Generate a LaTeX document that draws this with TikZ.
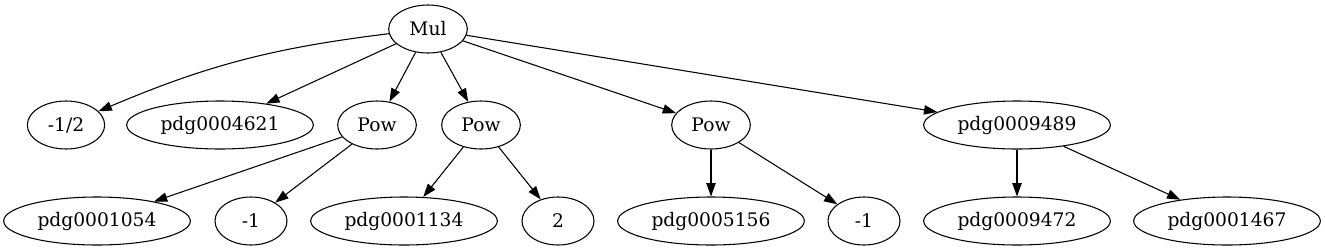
\documentclass[tikz,border=0pt]{standalone}
\usepackage{fontspec}
\setmainfont{DejaVu Serif}
\usetikzlibrary{arrows.meta}
\usetikzlibrary{shapes.geometric}

\begin{document}
\begin{tikzpicture}[x=0.75pt,y=-0.75pt,
	tnode/.style={ellipse, draw, line width=0.8pt, inner sep=0pt, minimum height=36pt,
		font=\fontsize{14pt}{16pt}\selectfont},
	small/.style={tnode, minimum width=54pt},
	op/.style={tnode, minimum width=59pt},
	pdg/.style={tnode, minimum width=140pt},
	link/.style={-{Triangle[length=10pt,width=7pt]}, line width=0.8pt}]

	\useasboundingbox (0,0) rectangle (1325,251);

	% racine
	\node[op] (mul) at (428,29) {Mul};

	% rang 1
	\node[op, minimum width=58pt] (half) at (66,125) {-1/2};
	\node[pdg] (p4621) at (220,125) {pdg0004621};
	\node[op] (powA) at (377,125) {Pow};
	\node[op] (powB) at (481,125) {Pow};
	\node[op] (powC) at (711,125) {Pow};
	\node[pdg] (p9489) at (1017,125) {pdg0009489};

	% rang 2
	\node[pdg] (p1054) at (97,221) {pdg0001054};
	\node[small] (mA) at (251,221) {-1};
	\node[pdg] (p1134) at (404,221) {pdg0001134};
	\node[small] (two) at (558,221) {2};
	\node[pdg] (p5156) at (711,221) {pdg0005156};
	\node[small] (mB) at (864,221) {-1};
	\node[pdg] (p9472) at (1017,221) {pdg0009472};
	\node[pdg] (p1467) at (1227,221) {pdg0001467};

	% aretes
	\draw[link] (mul) to[bend right=8] (half);
	\draw[link] (mul) -- (p4621);
	\draw[link] (mul) -- (powA);
	\draw[link] (mul) -- (powB);
	\draw[link] (mul) -- (powC);
	\draw[link] (mul) -- (p9489);

	\draw[link] (powA) -- (p1054);
	\draw[link] (powA) -- (mA);
	\draw[link] (powB) -- (p1134);
	\draw[link] (powB) -- (two);
	\draw[link] (powC) -- (p5156);
	\draw[link] (powC) -- (mB);
	\draw[link] (p9489) -- (p9472);
	\draw[link] (p9489) -- (p1467);

\end{tikzpicture}
\end{document}
